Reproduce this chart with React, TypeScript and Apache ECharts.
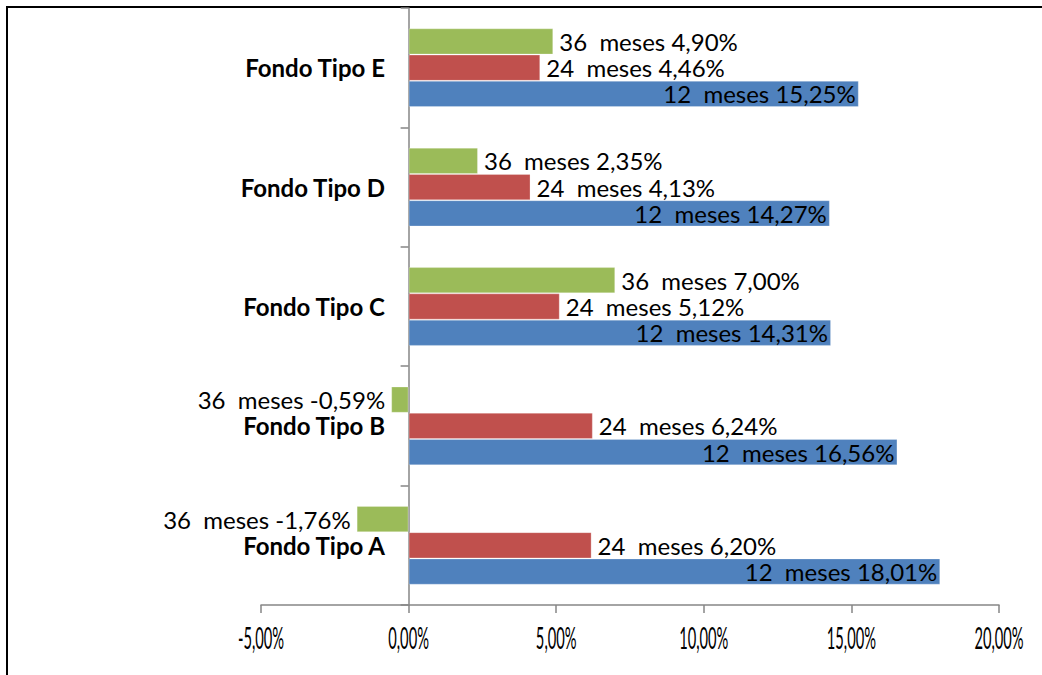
import React, { useEffect, useRef } from "react";
import * as echarts from "echarts";

const categories = ["Fondo Tipo A", "Fondo Tipo B", "Fondo Tipo C", "Fondo Tipo D", "Fondo Tipo E"];
const seriesNames = ["36  meses", "24  meses", "12  meses"];
const values36 = [-1.76, -0.59, 7.0, 2.35, 4.9];
const values24 = [6.2, 6.24, 5.12, 4.13, 4.46];
const values12 = [18.01, 16.56, 14.31, 14.27, 15.25];
const colors = ["#9BBB59", "#C0504D", "#4F81BD"];
const xTickValues = [-5, 0, 5, 10, 15, 20];
const xTickLabels = ["-5,00%", "0,00%", "5,00%", "10,00%", "15,00%", "20,00%"];

const fmt = (v: number) => v.toFixed(2).replace(".", ",") + "%";

export default function App() {
  const ref = useRef<HTMLDivElement>(null);
  useEffect(() => {
    if (!ref.current) return;
    const chart = echarts.init(ref.current, null, { renderer: "svg" });
    const allValues = [values36, values24, values12];
    const labelFont = { fontFamily: "Lato, 'Open Sans', sans-serif", fontSize: 24, color: "#000" };
    const series = allValues.map((vals, i) => ({
      type: "bar",
      name: seriesNames[i],
      barGap: "0%",
      barCategoryGap: "34%",
      itemStyle: { color: colors[i], borderColor: "rgba(255,255,255,0.25)", borderWidth: 1 },
      data: vals.map((v) => ({
        value: v,
        label: {
          show: true,
          position: i === 2 ? "insideRight" : v < 0 ? "left" : "right",
          distance: i === 2 ? 3 : 6,
          formatter: () => `${seriesNames[i]} ${fmt(v)}`,
          ...labelFont,
        },
      })),
    }));
    const frame = [
      { type: "line", shape: { x1: 6, y1: 7, x2: 1042, y2: 7 }, style: { stroke: "#000", lineWidth: 2 } },
      { type: "line", shape: { x1: 7, y1: 6, x2: 7, y2: 675 }, style: { stroke: "#000", lineWidth: 2 } },
    ];
    chart.setOption({
      animation: false,
      backgroundColor: "#fff",
      grid: { left: 261, right: 43, top: 8, bottom: 70, containLabel: false },
      xAxis: {
        type: "value",
        min: -5,
        max: 20,
        interval: 5,
        splitLine: { show: false },
        axisLine: { show: true, lineStyle: { color: "#868686", width: 1.5 } },
        axisTick: { show: true, length: 8, lineStyle: { color: "#868686", width: 1.5 } },
        axisLabel: { show: false },
      },
      yAxis: {
        type: "category",
        data: categories,
        axisLine: { show: true, onZero: true, lineStyle: { color: "#868686", width: 1.5 } },
        axisTick: { show: true, length: 8, lineStyle: { color: "#868686", width: 1.5 } },
        axisLabel: {
          margin: -124,
          fontFamily: "Lato, 'Open Sans', sans-serif",
          fontWeight: "bold",
          fontSize: 24,
          color: "#000",
        },
      },
      series,
      graphic: frame,
    });
    const axisY = chart.getHeight() - 70;
    const tickTexts = xTickValues.map((v, k) => {
      const px = chart.convertToPixel({ xAxisIndex: 0 }, v) as number;
      return {
        type: "text",
        x: px,
        y: axisY + 33,
        scaleX: 0.49,
        style: {
          text: xTickLabels[k],
          x: 0,
          y: 0,
          align: "center",
          verticalAlign: "middle",
          fontFamily: "Lato, 'Open Sans', sans-serif",
          fontSize: 30,
          fill: "#000",
        },
      };
    });
    chart.setOption({ graphic: [...frame, ...tickTexts] }, { replaceMerge: ["graphic"] });
    return () => chart.dispose();
  }, []);
  return <div ref={ref} style={{ position: "fixed", left: 0, top: 0, width: 1042, height: 675 }} />;
}
